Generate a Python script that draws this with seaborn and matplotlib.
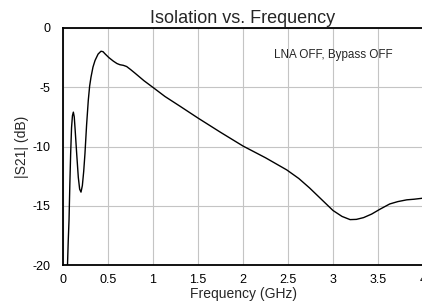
import numpy as np
import pandas as pd
import seaborn as sns
import matplotlib.pyplot as plt

# values
freq_ghz = [0.048, 0.058, 0.067, 0.076, 0.085, 0.095, 0.105, 0.115, 0.125, 0.135,
            0.152, 0.17, 0.185, 0.2, 0.215, 0.23, 0.244, 0.262, 0.281, 0.296,
            0.311, 0.333, 0.356, 0.39, 0.422, 0.445, 0.467, 0.51, 0.56, 0.6,
            0.633, 0.67, 0.707, 0.75, 0.8, 0.9, 1.02, 1.133, 1.3, 1.5,
            1.75, 2.0, 2.25, 2.485, 2.62, 2.74, 2.87, 3.0, 3.1, 3.19,
            3.26, 3.34, 3.43, 3.52, 3.63, 3.72, 3.82, 3.9, 3.99]
s21_db = [-20.5, -18.0, -16.2, -13.2, -10.6, -8.4, -7.4, -7.1, -7.5, -8.6,
          -10.6, -12.6, -13.6, -13.85, -13.3, -12.1, -10.6, -8.2, -6.1, -4.9,
          -4.15, -3.3, -2.74, -2.2, -1.96, -2.0, -2.18, -2.5, -2.8, -3.0,
          -3.1, -3.15, -3.25, -3.5, -3.81, -4.45, -5.13, -5.78, -6.6, -7.6,
          -8.8, -9.96, -10.95, -11.97, -12.7, -13.5, -14.45, -15.4, -15.9, -16.17,
          -16.15, -16.0, -15.7, -15.3, -14.85, -14.65, -14.5, -14.45, -14.37]

x_ticks = [0, 0.5, 1, 1.5, 2, 2.5, 3, 3.5, 4]
x_labels = ["0", "0.5", "1", "1.5", "2", "2.5", "3", "3.5", "4"]
y_ticks = [0, -5, -10, -15, -20]
y_labels = ["0", "-5", "-10", "-15", "-20"]

df = pd.DataFrame({"freq": freq_ghz, "s21": s21_db})

sns.set_style("whitegrid")
plt.rcParams['font.family'] = ['Liberation Sans', 'DejaVu Sans']

fig = plt.figure(figsize=(4.22, 3.04), dpi=100)
ax = fig.add_axes([63 / 422, 39 / 304, 360 / 422, 237 / 304])

sns.lineplot(data=df, x="freq", y="s21", sort=False, estimator=None,
             color="black", linewidth=1.0, ax=ax)

ax.set_xlim(0, 4)
ax.set_ylim(-20, 0)
ax.set_xticks(x_ticks)
ax.set_xticklabels(x_labels)
ax.set_yticks(y_ticks)
ax.set_yticklabels(y_labels)
ax.tick_params(labelsize=9, length=0, colors="black")
ax.tick_params(axis="x", pad=6.5)
ax.tick_params(axis="y", pad=9)
ax.grid(True, color="#c4c4c4", linewidth=0.8)

for side in ["left", "bottom", "top"]:
    ax.spines[side].set_visible(True)
    ax.spines[side].set_color("black")
    ax.spines[side].set_linewidth(1.3)
ax.spines["right"].set_visible(False)

ax.set_title("Isolation vs. Frequency", fontsize=13, pad=3.5)
ax.set_xlabel("Frequency (GHz)", fontsize=10, labelpad=0.5)
ax.set_ylabel("|S21| (dB)", fontsize=10, labelpad=2.5)
ax.text(3.0, -2.55, "LNA OFF, Bypass OFF", fontsize=8.4, ha="center", va="baseline")

fig.savefig("out.png", dpi=100)
